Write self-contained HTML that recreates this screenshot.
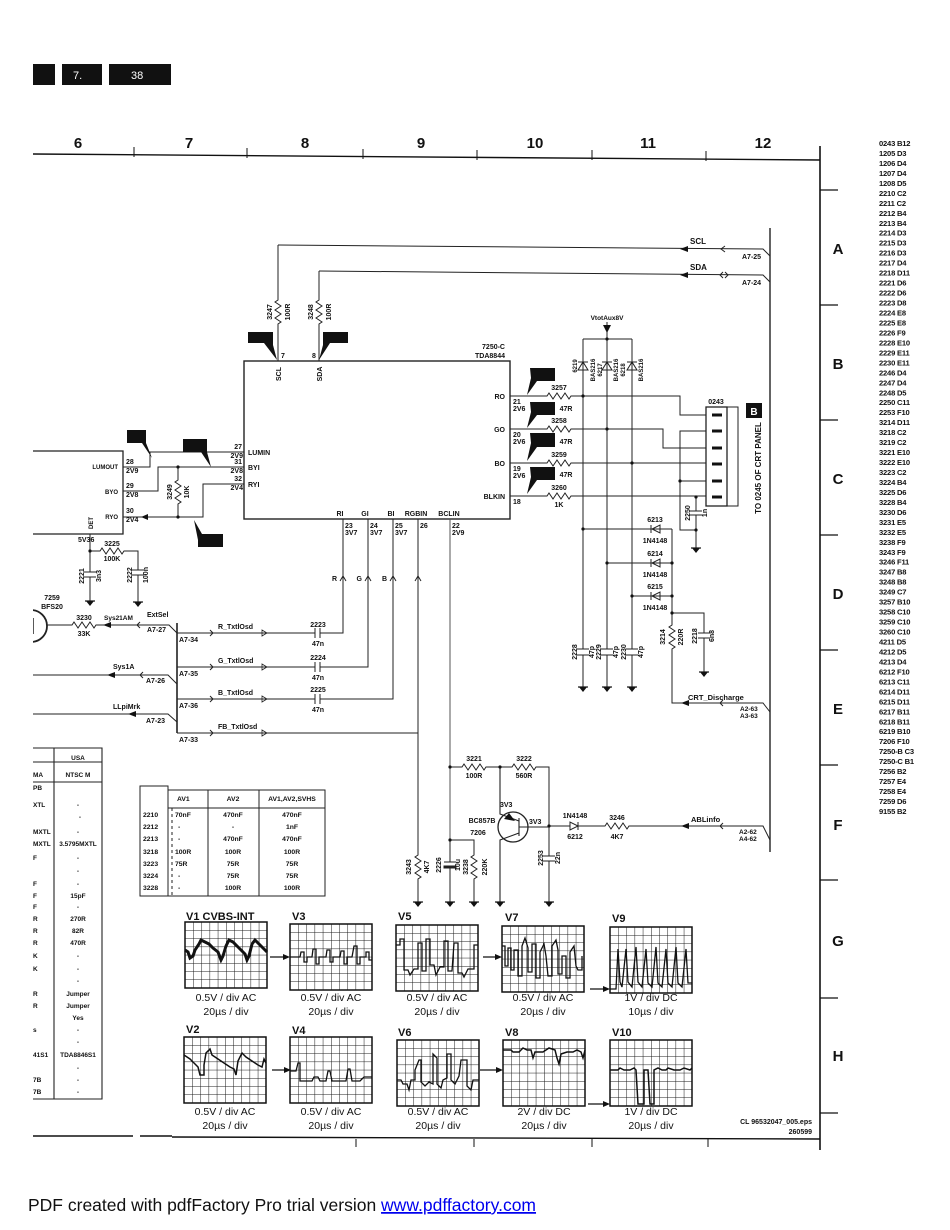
<!DOCTYPE html>
<html><head><meta charset="utf-8">
<style>
html,body{margin:0;padding:0;background:#fff;}
svg{display:block;}
text{font-family:"Liberation Sans",Arial,sans-serif;fill:#111;}
.t7{font-size:7px;font-weight:bold;}
.t6{font-size:6px;font-weight:bold;}
.t8{font-size:8px;font-weight:bold;}
.wl{font-size:11px;font-weight:bold;}
.wc{font-size:10.5px;}
.hd{font-size:15px;font-weight:bold;}
</style></head><body>
<svg width="950" height="1230" viewBox="0 0 950 1230" xmlns="http://www.w3.org/2000/svg">
<defs>
<pattern id="gr" width="8.2" height="8.2" patternUnits="userSpaceOnUse"><path d="M0 0H8.2M0 0V8.2" stroke="#1a1a1a" stroke-width="1" fill="none"/></pattern>
<g id="gnd"><path d="M-5 0H5" stroke="#111" stroke-width="1.2"/><path d="M-4 0H4L0 5Z" fill="#111"/></g>
<clipPath id="clipL"><rect x="33" y="590" width="40" height="60"/></clipPath>
</defs>

<!-- header boxes -->
<rect x="33" y="64" width="22" height="21" fill="#111"/>
<rect x="62" y="64" width="40" height="21" fill="#111"/>
<rect x="109" y="64" width="62" height="21" fill="#111"/>
<text x="73" y="79" style="font-size:11px;fill:#fff">7.</text>
<text x="131" y="79" style="font-size:11px;fill:#fff">38</text>

<!-- column header -->
<g class="hd" text-anchor="middle">
<text x="78" y="148">6</text><text x="189" y="148">7</text><text x="305" y="148">8</text><text x="421" y="148">9</text><text x="535" y="148">10</text><text x="648" y="148">11</text><text x="763" y="148">12</text>
</g>
<g stroke="#111" fill="none">
<path d="M33 154L820 160" stroke-width="1.4"/>
<path d="M134 147V157M247 148V158M363 149V159M477 150V160M592 150V160M706 151V161" stroke-width="1"/>
<path d="M820 146V1150" stroke-width="1.6"/>
<path d="M820 190H838M820 305H838M820 420H838M820 535H838M820 650H838M820 765H838M820 880H838M820 998H838M820 1113H838" stroke-width="1.2"/>
</g>
<g class="hd" text-anchor="middle">
<text x="838" y="254">A</text><text x="838" y="369">B</text><text x="838" y="484">C</text><text x="838" y="599">D</text><text x="838" y="714">E</text><text x="838" y="830">F</text><text x="838" y="946">G</text><text x="838" y="1061">H</text>
</g>

<!-- index list -->
<text class="t8" x="879" y="146" style="font-size:7.6px;letter-spacing:-0.2px">
<tspan x="879" dy="0">0243 B12</tspan><tspan x="879" dy="9.97">1205 D3</tspan><tspan x="879" dy="9.97">1206 D4</tspan><tspan x="879" dy="9.97">1207 D4</tspan><tspan x="879" dy="9.97">1208 D5</tspan><tspan x="879" dy="9.97">2210 C2</tspan><tspan x="879" dy="9.97">2211 C2</tspan><tspan x="879" dy="9.97">2212 B4</tspan><tspan x="879" dy="9.97">2213 B4</tspan><tspan x="879" dy="9.97">2214 D3</tspan><tspan x="879" dy="9.97">2215 D3</tspan><tspan x="879" dy="9.97">2216 D3</tspan><tspan x="879" dy="9.97">2217 D4</tspan><tspan x="879" dy="9.97">2218 D11</tspan><tspan x="879" dy="9.97">2221 D6</tspan><tspan x="879" dy="9.97">2222 D6</tspan><tspan x="879" dy="9.97">2223 D8</tspan><tspan x="879" dy="9.97">2224 E8</tspan><tspan x="879" dy="9.97">2225 E8</tspan><tspan x="879" dy="9.97">2226 F9</tspan><tspan x="879" dy="9.97">2228 E10</tspan><tspan x="879" dy="9.97">2229 E11</tspan><tspan x="879" dy="9.97">2230 E11</tspan><tspan x="879" dy="9.97">2246 D4</tspan><tspan x="879" dy="9.97">2247 D4</tspan><tspan x="879" dy="9.97">2248 D5</tspan><tspan x="879" dy="9.97">2250 C11</tspan><tspan x="879" dy="9.97">2253 F10</tspan><tspan x="879" dy="9.97">3214 D11</tspan><tspan x="879" dy="9.97">3218 C2</tspan><tspan x="879" dy="9.97">3219 C2</tspan><tspan x="879" dy="9.97">3221 E10</tspan><tspan x="879" dy="9.97">3222 E10</tspan><tspan x="879" dy="9.97">3223 C2</tspan><tspan x="879" dy="9.97">3224 B4</tspan><tspan x="879" dy="9.97">3225 D6</tspan><tspan x="879" dy="9.97">3228 B4</tspan><tspan x="879" dy="9.97">3230 D6</tspan><tspan x="879" dy="9.97">3231 E5</tspan><tspan x="879" dy="9.97">3232 E5</tspan><tspan x="879" dy="9.97">3238 F9</tspan><tspan x="879" dy="9.97">3243 F9</tspan><tspan x="879" dy="9.97">3246 F11</tspan><tspan x="879" dy="9.97">3247 B8</tspan><tspan x="879" dy="9.97">3248 B8</tspan><tspan x="879" dy="9.97">3249 C7</tspan><tspan x="879" dy="9.97">3257 B10</tspan><tspan x="879" dy="9.97">3258 C10</tspan><tspan x="879" dy="9.97">3259 C10</tspan><tspan x="879" dy="9.97">3260 C10</tspan><tspan x="879" dy="9.97">4211 D5</tspan><tspan x="879" dy="9.97">4212 D5</tspan><tspan x="879" dy="9.97">4213 D4</tspan><tspan x="879" dy="9.97">6212 F10</tspan><tspan x="879" dy="9.97">6213 C11</tspan><tspan x="879" dy="9.97">6214 D11</tspan><tspan x="879" dy="9.97">6215 D11</tspan><tspan x="879" dy="9.97">6217 B11</tspan><tspan x="879" dy="9.97">6218 B11</tspan><tspan x="879" dy="9.97">6219 B10</tspan><tspan x="879" dy="9.97">7206 F10</tspan><tspan x="879" dy="9.97">7250-B C3</tspan><tspan x="879" dy="9.97">7250-C B1</tspan><tspan x="879" dy="9.97">7256 B2</tspan><tspan x="879" dy="9.97">7257 E4</tspan><tspan x="879" dy="9.97">7258 E4</tspan><tspan x="879" dy="9.97">7259 D6</tspan><tspan x="879" dy="9.97">9155 B2</tspan>
</text>

<!-- ============ WIRES ============ -->
<g stroke="#222" stroke-width="1" fill="none">
<path d="M278 245L763 249L770 256"/>
<path d="M319 271L763 275L770 282"/>
<path d="M770 228V852" stroke-width="1.4"/>
<path d="M278 245V300l-3 2l6 4l-6 4l6 4l-6 4l6 4l-3 2V361"/>
<path d="M319 271V300l-3 2l6 4l-6 4l6 4l-6 4l6 4l-3 2V361"/>
<rect x="244" y="361" width="266" height="158" stroke-width="1.4"/>
<path d="M510 396H547l2 -3l4 6l4 -6l4 6l4 -6l4 6l2 -3H680V415H706"/>
<path d="M510 429H547l2 -3l4 6l4 -6l4 6l4 -6l4 6l2 -3H663V448H706"/>
<path d="M510 463H547l2 -3l4 6l4 -6l4 6l4 -6l4 6l2 -3H706"/>
<path d="M510 496H547l2 -3l4 6l4 -6l4 6l4 -6l4 6l2 -3H706"/>
<path d="M706 431H680V530H696"/>
<path d="M680 481H706"/>
<path d="M696 497V511M690 511H702M690 515H702M696 515V548"/>
<rect x="706" y="407" width="21" height="99" stroke-width="1.3"/>
<path d="M727 407H738V506H727"/>
<path d="M583 339H632M607 322V339"/>
<path d="M583 339V649M577 649H589M577 655H589M583 655V687"/>
<path d="M607 339V649M601 649H613M601 655H613M607 655V687"/>
<path d="M632 339V649M626 649H638M626 655H638M632 655V687"/>
<path d="M578 370H588L583 362ZM578 362H588"/>
<path d="M602 370H612L607 362ZM602 362H612"/>
<path d="M627 370H637L632 362ZM627 362H637"/>
<path d="M583 529H672M607 563H672M632 596H672"/>
<path d="M660 525V533L652 529ZM651 525V533"/>
<path d="M660 559V567L652 563ZM651 559V567"/>
<path d="M660 592V600L652 596ZM651 592V600"/>
<path d="M672 529V625l-3 2l6 4l-6 4l6 4l-6 4l6 4l-3 2V703H763L770 712"/>
<path d="M672 613H704V633M698 633H710M698 638H710M704 638V672"/>
<path d="M33 451H123V534H33" stroke-width="1.3"/>
<path d="M123 467H150V452H244"/>
<path d="M123 491H158V467H244"/>
<path d="M123 517H203V484H244"/>
<path d="M178 467V480l-3 2l6 4l-6 4l6 4l-6 4l6 4l-3 2V517"/>
<path d="M90 534V551H100l2 -3l4 6l4 -6l4 6l4 -6l4 6l2 -3H138V570M132 570H144M132 575H144M138 575V602"/>
<path d="M90 551V572M84 572H96M84 577H96M90 577V601"/>
<g clip-path="url(#clipL)"><circle cx="31" cy="626" r="16" stroke-width="1.8"/><path d="M33 618V634" stroke-width="1.5"/></g>
<path d="M47 625H72l2 -3l4 6l4 -6l4 6l4 -6l4 6l2 -3H169L177 633"/>
<path d="M177 623V733" stroke-width="1.6"/>
<path d="M177 633H315M315 628V638M320 628V638M320 633H343V519"/>
<path d="M177 667H315M315 662V672M320 662V672M320 667H368V519"/>
<path d="M177 699H315M315 694V704M320 694V704M320 699H393V519"/>
<path d="M177 733H418"/>
<path d="M418 519V855l-3 2l6 4l-6 4l6 4l-6 4l6 4l-3 2V902"/>
<path d="M33 675H168L177 684"/>
<path d="M33 714H168L177 722"/>
<path d="M450 519V840" stroke="#555"/>
<path d="M450 767H462l2 -3l4 6l4 -6l4 6l4 -6l4 6l2 -3H512l2 -3l4 6l4 -6l4 6l4 -6l4 6l2 -3H549V856M543 856H555M543 861H555M549 861V902"/>
<path d="M450 840V862M444 862H456M450 867V902"/>
<rect x="444" y="866" width="12" height="2" fill="#222"/>
<path d="M450 840H474V855l-3 2l6 4l-6 4l6 4l-6 4l6 4l-3 2V902"/>
<circle cx="513" cy="827" r="15" stroke-width="1.3"/>
<path d="M500 767V814L519 821M519 833L500 840V902M519 818V836M519 827H549" stroke-width="1.1"/>
<path d="M549 826H570M570 822V830L578 826ZM578 822V830M578 826H605l2 -3l4 6l4 -6l4 6l4 -6l4 6l2 -3H763L770 840"/>
<path d="M725 246L721 249L725 252"/>
<path d="M723 272L720 275L723 278M725 272L728 275L725 278"/>
<path d="M723 700L720 703L723 706"/>
<path d="M723 823L720 826L723 829"/>
<path d="M140 622L137 625L140 628"/>
<path d="M143 672L140 675L143 678"/>
<path d="M210 630L213 633L210 636M210 664L213 667L210 670M210 696L213 699L210 702M210 730L213 733L210 736"/>
<path d="M340 581L343 576L346 581M365 581L368 576L371 581M390 581L393 576L396 581M415 581L418 576L421 581"/>
</g>
<g fill="#111">
<path d="M680 249L688 246L688 252Z"/>
<path d="M680 275L688 272L688 278Z"/>
<path d="M681 703L689 700L689 706Z"/>
<path d="M681 826L689 823L689 829Z"/>
<path d="M103 625L111 622L111 628Z"/>
<path d="M107 675L115 672L115 678Z"/>
<path d="M128 714L136 711L136 717Z"/>
<path d="M141 517L148 514L148 520Z"/>
<path d="M603 325H611L607 333Z"/>
<path d="M262 630L267 633L262 636ZM262 664L267 667L262 670ZM262 696L267 699L262 702ZM262 730L267 733L262 736Z" fill="none" stroke="#222" stroke-width="0.8"/>
<path d="M504 819L515 821L509 813Z"/>
</g>
<g fill="#111">
<circle cx="607" cy="339" r="1.6"/><circle cx="583" cy="396" r="1.6"/><circle cx="607" cy="429" r="1.6"/><circle cx="632" cy="463" r="1.6"/>
<circle cx="583" cy="529" r="1.6"/><circle cx="607" cy="563" r="1.6"/><circle cx="672" cy="563" r="1.6"/><circle cx="632" cy="596" r="1.6"/><circle cx="672" cy="596" r="1.6"/><circle cx="672" cy="613" r="1.6"/>
<circle cx="696" cy="497" r="1.6"/><circle cx="680" cy="481" r="1.6"/><circle cx="696" cy="530" r="1.6"/>
<circle cx="178" cy="467" r="1.6"/><circle cx="178" cy="517" r="1.6"/><circle cx="90" cy="551" r="1.6"/>
<circle cx="450" cy="767" r="1.6"/><circle cx="500" cy="767" r="1.6"/><circle cx="549" cy="826" r="1.6"/><circle cx="450" cy="840" r="1.6"/>
</g>
<g fill="#111">
<rect x="712" y="413.5" width="10" height="3"/><rect x="712" y="429.5" width="10" height="3"/><rect x="712" y="446.5" width="10" height="3"/><rect x="712" y="462.5" width="10" height="3"/><rect x="712" y="479.5" width="10" height="3"/><rect x="712" y="495.5" width="10" height="3"/>
</g>
<use href="#gnd" x="583" y="687"/><use href="#gnd" x="607" y="687"/><use href="#gnd" x="632" y="687"/>
<use href="#gnd" x="704" y="672"/><use href="#gnd" x="696" y="548"/>
<use href="#gnd" x="90" y="601"/><use href="#gnd" x="138" y="602"/>
<use href="#gnd" x="418" y="902"/><use href="#gnd" x="450" y="902"/><use href="#gnd" x="474" y="902"/><use href="#gnd" x="500" y="902"/><use href="#gnd" x="549" y="902"/>

<g fill="#111">
<path d="M248 332H273V345L277 360L264 343H248Z"/>
<path d="M323 332H348V343H330L319 360L323 345Z"/>
<path d="M530 368H555V381H537L527 395L531 378Z"/>
<path d="M530 402H555V415H537L527 428L531 412Z"/>
<path d="M530 433H555V447H537L527 461L531 443Z"/>
<path d="M530 467H555V480H537L527 494L531 477Z"/>
<path d="M127 430H146V443L152 458L142 443H127Z"/>
<path d="M183 439H207V452L211 467L201 452H183Z"/>
<path d="M198 534H223V547H198V540L194 520L202 534Z"/>
<rect x="746" y="403" width="16" height="15"/>
</g>
<text x="754" y="415" text-anchor="middle" style="font-size:10px;font-weight:bold;fill:#fff">B</text>

<g class="t7">
<text x="690" y="244" class="t8">SCL</text>
<text x="690" y="270" class="t8">SDA</text>
<text x="742" y="259">A7-25</text>
<text x="742" y="285">A7-24</text>
<text x="281" y="358">7</text>
<text x="312" y="358">8</text>
<text x="505" y="349" text-anchor="end">7250-C</text>
<text x="505" y="358" text-anchor="end">TDA8844</text>
<text x="505" y="399" text-anchor="end">RO</text>
<text x="505" y="432" text-anchor="end">GO</text>
<text x="505" y="466" text-anchor="end">BO</text>
<text x="505" y="499" text-anchor="end">BLKIN</text>
<text x="513" y="404">21</text><text x="513" y="411">2V6</text>
<text x="513" y="437">20</text><text x="513" y="444">2V6</text>
<text x="513" y="471">19</text><text x="513" y="478">2V6</text>
<text x="513" y="504">18</text>
<text x="559" y="390" text-anchor="middle">3257</text><text x="566" y="411" text-anchor="middle">47R</text>
<text x="559" y="423" text-anchor="middle">3258</text><text x="566" y="444" text-anchor="middle">47R</text>
<text x="559" y="457" text-anchor="middle">3259</text><text x="566" y="477" text-anchor="middle">47R</text>
<text x="559" y="490" text-anchor="middle">3260</text><text x="559" y="507" text-anchor="middle">1K</text>
<text x="716" y="404" text-anchor="middle">0243</text>
<text x="607" y="320" text-anchor="middle" style="font-size:6.5px">VtotAux8V</text>
<text x="655" y="522" text-anchor="middle">6213</text><text x="655" y="543" text-anchor="middle">1N4148</text>
<text x="655" y="556" text-anchor="middle">6214</text><text x="655" y="577" text-anchor="middle">1N4148</text>
<text x="655" y="589" text-anchor="middle">6215</text><text x="655" y="610" text-anchor="middle">1N4148</text>
<text x="688" y="700" class="t8" style="font-size:7.5px">CRT_Discharge</text>
<text x="740" y="711" style="font-size:6.5px">A2-63</text><text x="740" y="718" style="font-size:6.5px">A3-63</text>
<text x="248" y="455">LUMIN</text>
<text x="248" y="470">BYI</text>
<text x="248" y="487">RYI</text>
<text x="242" y="449" text-anchor="end">27</text><text x="243" y="458" text-anchor="end">2V9</text>
<text x="242" y="464" text-anchor="end">31</text><text x="243" y="473" text-anchor="end">2V8</text>
<text x="242" y="481" text-anchor="end">32</text><text x="243" y="490" text-anchor="end">2V4</text>
<text x="118" y="469" text-anchor="end" class="t6">LUMOUT</text>
<text x="118" y="494" text-anchor="end" class="t6">BYO</text>
<text x="118" y="519" text-anchor="end" class="t6">RYO</text>
<text x="126" y="464">28</text><text x="126" y="473">2V9</text>
<text x="126" y="488">29</text><text x="126" y="497">2V8</text>
<text x="126" y="513">30</text><text x="126" y="522">2V4</text>
<text x="78" y="542">5V36</text>
<text x="112" y="546" text-anchor="middle">3225</text><text x="112" y="561" text-anchor="middle">100K</text>
<text x="52" y="600" text-anchor="middle">7259</text><text x="52" y="609" text-anchor="middle">BFS20</text>
<text x="84" y="620" text-anchor="middle">3230</text><text x="84" y="636" text-anchor="middle">33K</text>
<text x="104" y="620" style="font-size:6.5px">Sys21AM</text>
<text x="147" y="617">ExtSel</text><text x="147" y="632">A7-27</text>
<text x="179" y="642">A7-34</text><text x="218" y="629">R_TxtlOsd</text><text x="318" y="627" text-anchor="middle">2223</text><text x="318" y="646" text-anchor="middle">47n</text>
<text x="179" y="676">A7-35</text><text x="218" y="663">G_TxtlOsd</text><text x="318" y="660" text-anchor="middle">2224</text><text x="318" y="680" text-anchor="middle">47n</text>
<text x="179" y="708">A7-36</text><text x="218" y="695">B_TxtlOsd</text><text x="318" y="692" text-anchor="middle">2225</text><text x="318" y="712" text-anchor="middle">47n</text>
<text x="179" y="742">A7-33</text><text x="218" y="729">FB_TxtlOsd</text>
<text x="113" y="669">Sys1A</text><text x="146" y="683">A7-26</text>
<text x="113" y="709">LLpiMrk</text><text x="146" y="723">A7-23</text>
<text x="340" y="516" text-anchor="middle">RI</text>
<text x="365" y="516" text-anchor="middle">GI</text>
<text x="391" y="516" text-anchor="middle">BI</text>
<text x="416" y="516" text-anchor="middle">RGBIN</text>
<text x="449" y="516" text-anchor="middle">BCLIN</text>
<text x="345" y="528">23</text><text x="345" y="535">3V7</text>
<text x="370" y="528">24</text><text x="370" y="535">3V7</text>
<text x="395" y="528">25</text><text x="395" y="535">3V7</text>
<text x="420" y="528">26</text>
<text x="452" y="528">22</text><text x="452" y="535">2V9</text>
<text x="337" y="581" text-anchor="end">R</text><text x="362" y="581" text-anchor="end">G</text><text x="387" y="581" text-anchor="end">B</text>
<text x="474" y="761" text-anchor="middle">3221</text><text x="474" y="778" text-anchor="middle">100R</text>
<text x="524" y="761" text-anchor="middle">3222</text><text x="524" y="778" text-anchor="middle">560R</text>
<text x="500" y="807">3V3</text>
<text x="482" y="823" text-anchor="middle">BC857B</text><text x="478" y="835" text-anchor="middle">7206</text>
<text x="529" y="824">3V3</text>
<text x="575" y="818" text-anchor="middle">1N4148</text><text x="575" y="839" text-anchor="middle">6212</text>
<text x="617" y="820" text-anchor="middle">3246</text><text x="617" y="839" text-anchor="middle">4K7</text>
<text x="691" y="822" class="t8" style="font-size:7.5px">ABLinfo</text>
<text x="739" y="834" style="font-size:6.5px">A2-62</text><text x="739" y="841" style="font-size:6.5px">A4-62</text>
</g>
<g class="t7" text-anchor="middle">
<text transform="translate(272,312) rotate(-90)">3247</text>
<text transform="translate(290,312) rotate(-90)">100R</text>
<text transform="translate(313,312) rotate(-90)">3248</text>
<text transform="translate(331,312) rotate(-90)">100R</text>
<text transform="translate(281,374) rotate(-90)">SCL</text>
<text transform="translate(322,374) rotate(-90)">SDA</text>
<text transform="translate(577,366) rotate(-90)" class="t6">6219</text>
<text transform="translate(595,370) rotate(-90)" class="t6">BAS216</text>
<text transform="translate(602,370) rotate(-90)" class="t6">6217</text>
<text transform="translate(618,370) rotate(-90)" class="t6">BAS216</text>
<text transform="translate(625,370) rotate(-90)" class="t6">6218</text>
<text transform="translate(643,370) rotate(-90)" class="t6">BAS216</text>
<text transform="translate(761,468) rotate(-90)" class="t8">TO 0245 OF CRT PANEL</text>
<text transform="translate(690,513) rotate(-90)">2250</text>
<text transform="translate(707,513) rotate(-90)">1n</text>
<text transform="translate(577,652) rotate(-90)">2228</text><text transform="translate(594,652) rotate(-90)">47p</text>
<text transform="translate(601,652) rotate(-90)">2229</text><text transform="translate(618,652) rotate(-90)">47p</text>
<text transform="translate(626,652) rotate(-90)">2230</text><text transform="translate(643,652) rotate(-90)">47p</text>
<text transform="translate(665,637) rotate(-90)">3214</text><text transform="translate(683,637) rotate(-90)">220R</text>
<text transform="translate(697,636) rotate(-90)">2218</text><text transform="translate(714,636) rotate(-90)">6n8</text>
<text transform="translate(172,492) rotate(-90)">3249</text><text transform="translate(189,492) rotate(-90)">10K</text>
<text transform="translate(93,523) rotate(-90)" class="t6">DET</text>
<text transform="translate(84,576) rotate(-90)">2221</text><text transform="translate(101,576) rotate(-90)">3n3</text>
<text transform="translate(132,575) rotate(-90)">2222</text><text transform="translate(148,575) rotate(-90)">100n</text>
<text transform="translate(411,867) rotate(-90)">3243</text><text transform="translate(429,867) rotate(-90)">4K7</text>
<text transform="translate(441,865) rotate(-90)">2226</text><text transform="translate(460,865) rotate(-90)">10u</text>
<text transform="translate(468,867) rotate(-90)">3238</text><text transform="translate(487,867) rotate(-90)">220K</text>
<text transform="translate(543,858) rotate(-90)">2253</text><text transform="translate(560,858) rotate(-90)">22n</text>
</g>

<!-- LEFT TABLE -->
<g stroke="#222" fill="none" stroke-width="1.1">
<path d="M33 748H102V1099H33M54 748V1099M33 762H102M33 782H102"/>
</g>
<g class="t7" style="font-size:6.5px">
<text x="78" y="760" text-anchor="middle">USA</text>
<g text-anchor="middle">
<text x="78" y="777">NTSC M</text><text x="78" y="807">-</text><text x="80" y="819">-</text><text x="78" y="834">-</text><text x="78" y="846">3.5795MXTL</text><text x="78" y="860">-</text><text x="78" y="873">-</text><text x="78" y="886">-</text><text x="78" y="898">15pF</text><text x="78" y="909">-</text><text x="78" y="921">270R</text><text x="78" y="933">82R</text><text x="78" y="945">470R</text><text x="78" y="958">-</text><text x="78" y="971">-</text><text x="78" y="983">-</text><text x="78" y="996">Jumper</text><text x="78" y="1008">Jumper</text><text x="78" y="1020">Yes</text><text x="78" y="1032">-</text><text x="78" y="1044">-</text><text x="78" y="1057">TDA8846S1</text><text x="78" y="1070">-</text><text x="78" y="1082">-</text><text x="78" y="1094">-</text>
</g>
<text x="33" y="777">MA</text><text x="33" y="790">PB</text><text x="33" y="807">XTL</text><text x="33" y="834">MXTL</text><text x="33" y="846">MXTL</text><text x="33" y="860">F</text><text x="33" y="886">F</text><text x="33" y="898">F</text><text x="33" y="909">F</text><text x="33" y="921">R</text><text x="33" y="933">R</text><text x="33" y="945">R</text><text x="33" y="958">K</text><text x="33" y="971">K</text><text x="33" y="996">R</text><text x="33" y="1008">R</text><text x="33" y="1032">s</text><text x="33" y="1057">41S1</text><text x="33" y="1082">7B</text><text x="33" y="1094">7B</text>
</g>

<!-- RIGHT SMALL TABLE -->
<g stroke="#222" fill="none" stroke-width="1">
<path d="M140 786H168V896H140Z"/>
<path d="M168 790H325V896H168M168 808H325M208 790V896M259 790V896"/>
<path d="M172 808V896" stroke-dasharray="3 3"/>
</g>
<g class="t7" style="font-size:6.8px">
<text x="177" y="801">AV1</text><text x="233" y="801" text-anchor="middle">AV2</text><text x="292" y="801" text-anchor="middle">AV1,AV2,SVHS</text>
<text x="143" y="817">2210</text><text x="143" y="829">2212</text><text x="143" y="841">2213</text><text x="143" y="854">3218</text><text x="143" y="866">3223</text><text x="143" y="878">3224</text><text x="143" y="890">3228</text>
<text x="175" y="817">70nF</text><text x="178" y="829">-</text><text x="178" y="841">-</text><text x="175" y="854">100R</text><text x="175" y="866">75R</text><text x="178" y="878">-</text><text x="178" y="890">-</text>
<g text-anchor="middle">
<text x="233" y="817">470nF</text><text x="233" y="829">-</text><text x="233" y="841">470nF</text><text x="233" y="854">100R</text><text x="233" y="866">75R</text><text x="233" y="878">75R</text><text x="233" y="890">100R</text>
<text x="292" y="817">470nF</text><text x="292" y="829">1nF</text><text x="292" y="841">470nF</text><text x="292" y="854">100R</text><text x="292" y="866">75R</text><text x="292" y="878">75R</text><text x="292" y="890">100R</text>
</g>
</g>

<!-- WAVEFORMS -->
<g fill="none" stroke="#111">
<g transform="translate(185,922)"><rect width="82" height="66" fill="url(#gr)" stroke-width="1.5"/><polyline stroke-width="3" points="0,28 3,30 5,36 8,34 10,28 14,22 16,18 20,20 24,22 28,26 33,30 36,38 38,34 41,24 44,18 48,20 52,24 56,28 60,32 62,38 64,34 67,22 70,18 74,22 78,26 82,30"/></g>
<g transform="translate(290,924)"><rect width="82" height="66" fill="url(#gr)" stroke-width="1.5"/><polyline stroke-width="1.3" points="0,33 10,33 11,28 14,28 14,38 17,38 17,33 22,33 23,25 26,25 26,40 29,40 29,33 36,33 37,26 40,26 40,38 43,38 43,33 50,33 51,27 54,27 54,40 57,40 57,33 62,33 64,22 67,22 67,40 70,40 70,33 76,33 76,28 79,28 79,36 82,36"/></g>
<g transform="translate(396,925)"><rect width="82" height="66" fill="url(#gr)" stroke-width="1.5"/><polyline stroke-width="1.3" points="0,20 4,20 4,14 8,14 8,45 12,45 14,50 18,44 22,44 22,18 26,18 26,46 30,46 30,14 34,14 34,40 38,40 40,50 44,42 48,42 48,16 52,16 52,46 56,46 58,18 62,18 62,48 66,48 68,52 72,44 78,44 78,20 82,20"/></g>
<g transform="translate(502,926)"><rect width="82" height="66" fill="url(#gr)" stroke-width="1.5"/><polyline stroke-width="1.3" points="0,20 3,20 3,40 6,40 6,22 9,22 9,44 12,44 12,24 16,24 16,50 20,50 20,20 23,12 26,22 26,46 30,46 30,18 34,18 34,52 38,52 38,26 42,18 44,30 46,50 50,50 50,20 54,14 56,24 56,48 60,48 60,30 64,30 64,52 68,52 68,26 72,20 74,40 76,44 80,44 80,30"/></g>
<g transform="translate(610,927)"><rect width="82" height="66" fill="url(#gr)" stroke-width="1.5"/><polyline stroke-width="1.3" points="0,62 6,62 8,22 10,55 12,60 16,22 18,55 22,60 26,20 28,55 32,60 36,22 38,56 42,60 46,20 48,56 52,60 56,22 58,56 62,60 66,20 68,56 72,60 76,22 78,56 82,56"/></g>
<g transform="translate(184,1037)"><rect width="82" height="66" fill="url(#gr)" stroke-width="1.5"/><polyline stroke-width="1.5" points="0,18 6,22 10,26 14,30 16,38 20,38 20,28 22,16 26,12 28,18 34,22 40,26 46,30 50,32 52,38 54,24 58,16 62,20 68,24 74,28 78,30 80,22 82,26"/></g>
<g transform="translate(290,1037)"><rect width="82" height="66" fill="url(#gr)" stroke-width="1.5"/><polyline stroke-width="1.3" points="0,34 6,34 8,26 10,26 10,44 16,44 22,44 24,40 28,40 30,44 36,44 38,34 40,34 42,44 50,44 56,44 58,32 60,32 62,44 70,44 74,40 82,40"/></g>
<g transform="translate(397,1040)"><rect width="82" height="66" fill="url(#gr)" stroke-width="1.5"/><polyline stroke-width="1.3" points="0,40 4,40 6,44 10,44 12,50 14,40 18,40 18,30 22,20 24,20 24,42 28,46 32,42 36,44 36,14 40,18 40,44 44,48 46,40 50,38 50,14 54,14 54,40 58,44 62,36 64,20 70,20 70,46 74,50 76,40 82,40"/></g>
<g transform="translate(503,1040)"><rect width="82" height="66" fill="url(#gr)" stroke-width="1.5"/><polyline stroke-width="1.5" points="0,10 8,10 10,12 16,12 20,8 24,10 28,10 30,18 32,12 40,12 46,8 52,10 54,18 56,24 58,14 64,12 70,12 74,10 78,12 80,18 82,10"/></g>
<g transform="translate(610,1040)"><rect width="82" height="66" fill="url(#gr)" stroke-width="1.5"/><polyline stroke-width="1.5" points="0,30 8,30 10,28 14,30 20,30 24,28 26,30 28,64 34,64 34,30 38,30 40,64 44,64 44,30 48,28 52,30 56,30 58,28 64,30 70,30 74,28 80,30 82,28"/></g>
<path d="M270 957H284M483 957H497M590 989H604M272 1070H286M480 1070H496M588 1104H604" stroke-width="1.2"/>
</g>
<g fill="#111">
<path d="M290 957L283 954L283 960Z"/><path d="M502 957L495 954L495 960Z"/><path d="M610 989L603 986L603 992Z"/>
<path d="M291 1070L284 1067L284 1073Z"/><path d="M503 1070L496 1067L496 1073Z"/><path d="M610 1104L603 1101L603 1107Z"/>
</g>
<g class="wl">
<text x="186" y="920">V1 CVBS-INT</text><text x="292" y="920">V3</text><text x="398" y="920">V5</text><text x="505" y="921">V7</text><text x="612" y="922">V9</text>
<text x="186" y="1033">V2</text><text x="292" y="1034">V4</text><text x="398" y="1036">V6</text><text x="505" y="1036">V8</text><text x="612" y="1036">V10</text>
</g>
<g class="wc" text-anchor="middle">
<text x="226" y="1001">0.5V / div AC</text><text x="226" y="1015">20µs / div</text>
<text x="331" y="1001">0.5V / div AC</text><text x="331" y="1015">20µs / div</text>
<text x="437" y="1001">0.5V / div AC</text><text x="437" y="1015">20µs / div</text>
<text x="543" y="1001">0.5V / div AC</text><text x="543" y="1015">20µs / div</text>
<text x="651" y="1001">1V / div DC</text><text x="651" y="1015">10µs / div</text>
<text x="225" y="1115">0.5V / div AC</text><text x="225" y="1129">20µs / div</text>
<text x="331" y="1115">0.5V / div AC</text><text x="331" y="1129">20µs / div</text>
<text x="438" y="1115">0.5V / div AC</text><text x="438" y="1129">20µs / div</text>
<text x="544" y="1115">2V / div DC</text><text x="544" y="1129">20µs / div</text>
<text x="651" y="1115">1V / div DC</text><text x="651" y="1129">20µs / div</text>
</g>
<text x="812" y="1124" text-anchor="end" class="t7">CL 96532047_005.eps</text>
<text x="812" y="1134" text-anchor="end" class="t7">260599</text>

<g stroke="#111" fill="none">
<path d="M33 1136H133M140 1136H172" stroke-width="1.4"/>
<path d="M172 1137L820 1139" stroke-width="1.4"/>
<path d="M356 1139V1147M474 1139V1147M592 1139V1147M708 1139V1147" stroke-width="1"/>
</g>

<text x="28" y="1211" style="font-size:17.5px">PDF created with pdfFactory Pro trial version <tspan style="fill:#0000ee;text-decoration:underline">www.pdffactory.com</tspan></text>
</svg>
</body></html>
